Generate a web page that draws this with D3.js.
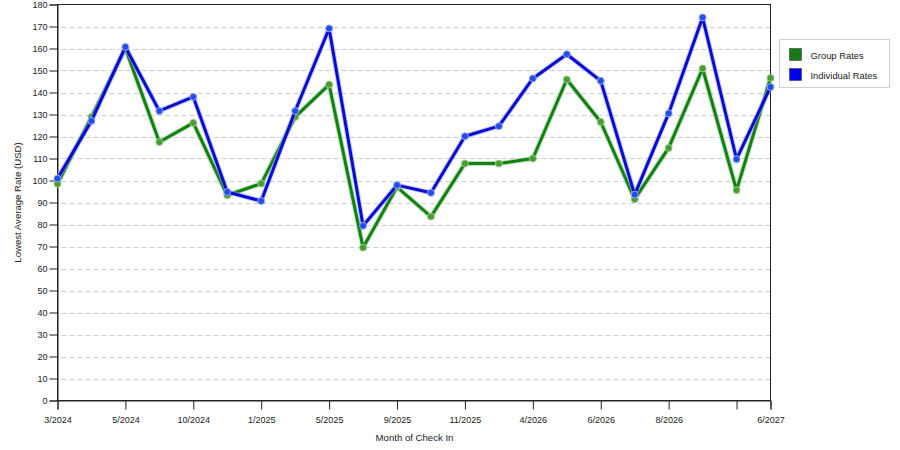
<!DOCTYPE html>
<html>
<head>
<meta charset="utf-8">
<script src="https://cdn.jsdelivr.net/npm/d3@7"></script>
<style>
  body { margin: 0; background: #fff; }
  text { font-family: "Liberation Sans", Arial, sans-serif; fill: #222; }
</style>
</head>
<body>
<svg id="chart" width="900" height="450"></svg>
<script>
// month labels, only every second one is printed on the axis
let months = ["3/2024", "", "5/2024", "", "10/2024", "", "1/2025", "", "5/2025", "",
  "9/2025", "", "11/2025", "", "4/2026", "", "6/2026", "", "8/2026", "", "", "6/2027"];
let tickIdx = [0, 2, 4, 6, 8, 10, 12, 14, 16, 18, 20, 21];
let groupRates = [98.5, 128.9, 160, 117.5, 126.2, 93.3, 98.6, 128.9, 143.6, 69.5, 97,
  83.6, 107.7, 107.7, 110, 145.9, 126.6, 91.5, 114.8, 150.9, 95.6, 146.6];
let individualRates = [100.9, 127.1, 160.7, 131.6, 138, 94.8, 90.7, 131.6, 169.1, 79.4, 97.9,
  94.4, 120.1, 124.7, 146.4, 157.4, 145.3, 93.6, 130.5, 174.1, 109.7, 142.5];
let yTicks = d3.range(0, 181, 10);

let series = [
  {name: "Group Rates", values: groupRates, color: "#138013", halo: "#8fcf8f", dot: "#4f9a2f"},
  {name: "Individual Rates", values: individualRates, color: "#0a0ad2", halo: "#9aa8ff", dot: "#1f4fe6"}
];

function drawChart() {
  let svg = d3.select("#chart");
  let left = 57.5, right = 770.5, top = 4.5, bottom = 400.5;

  let x = d3.scaleLinear().domain([0, months.length - 1]).range([left, right]);
  let y = d3.scaleLinear().domain([0, 180]).range([bottom, top]);

  // dashed grid
  svg.append("g").selectAll("line").data(yTicks.filter(d => d > 0 && d < 180))
    .enter().append("line")
    .attr("x1", left + 4).attr("x2", right)
    .attr("y1", d => Math.round(y(d)) + 0.5).attr("y2", d => Math.round(y(d)) + 0.5)
    .attr("stroke", "#cfcfcf")
    .attr("stroke-dasharray", "5,3");

  // frame
  svg.append("rect")
    .attr("x", left).attr("y", top)
    .attr("width", right - left).attr("height", bottom - top)
    .attr("fill", "none").attr("stroke", "#222");

  let yAxis = d3.axisLeft(y).tickValues(yTicks).tickSize(8).tickPadding(2);
  let gy = svg.append("g").attr("transform", `translate(${left},0)`).call(yAxis);
  gy.select(".domain").attr("stroke", "#222");
  gy.selectAll(".tick line").attr("stroke", "#222");
  gy.selectAll("text").style("font-size", "9px").attr("fill", "#222");

  let xAxis = d3.axisBottom(x).tickValues(tickIdx).tickSize(9).tickPadding(7)
    .tickFormat(i => months[i]);
  let gx = svg.append("g").attr("transform", `translate(0,${bottom})`).call(xAxis);
  gx.select(".domain").attr("stroke", "#222");
  gx.selectAll(".tick line").attr("stroke", "#222");
  gx.selectAll("text").style("font-size", "9px").attr("fill", "#222");

  svg.append("text")
    .attr("x", (left + right) / 2 + 0.5).attr("y", 441)
    .attr("text-anchor", "middle")
    .style("font-size", "9.6px")
    .text("Month of Check In");

  svg.append("text")
    .attr("transform", `translate(21,${(top + bottom) / 2}) rotate(-90)`)
    .attr("text-anchor", "middle")
    .style("font-size", "9.6px")
    .text("Lowest Average Rate (USD)");

  let line = d3.line().x((d, i) => x(i)).y(d => y(d));

  for (let s of series) {
    let g = svg.append("g");
    g.append("path").datum(s.values)
      .attr("d", line).attr("fill", "none")
      .attr("stroke", s.halo).attr("stroke-opacity", 0.6)
      .attr("stroke-width", 5).attr("stroke-linejoin", "round");
    g.append("path").datum(s.values)
      .attr("d", line).attr("fill", "none")
      .attr("stroke", s.color).attr("stroke-width", 3)
      .attr("stroke-linejoin", "round");
    g.selectAll("circle").data(s.values)
      .enter().append("circle")
      .attr("cx", (d, i) => x(i)).attr("cy", d => y(d))
      .attr("r", 3.5)
      .attr("fill", s.dot)
      .attr("stroke", s.halo).attr("stroke-width", 1);
  }

  // legend
  let lg = svg.append("g").attr("transform", "translate(779.5,39.5)");
  lg.append("rect").attr("width", 110).attr("height", 48)
    .attr("fill", "#fff").attr("stroke", "#d0d0d0");
  let items = lg.selectAll("g").data(series).enter().append("g")
    .attr("transform", (d, i) => `translate(10,${9 + i * 20})`);
  items.append("rect").attr("width", 12).attr("height", 12)
    .attr("fill", d => d.name === "Group Rates" ? "#177a17" : "#0000f0")
    .attr("stroke", "#333").attr("stroke-width", 0.5);
  items.append("text").attr("x", 21).attr("y", 10)
    .style("font-size", "9.4px")
    .text(d => d.name);
}

drawChart();
</script>
</body>
</html>
